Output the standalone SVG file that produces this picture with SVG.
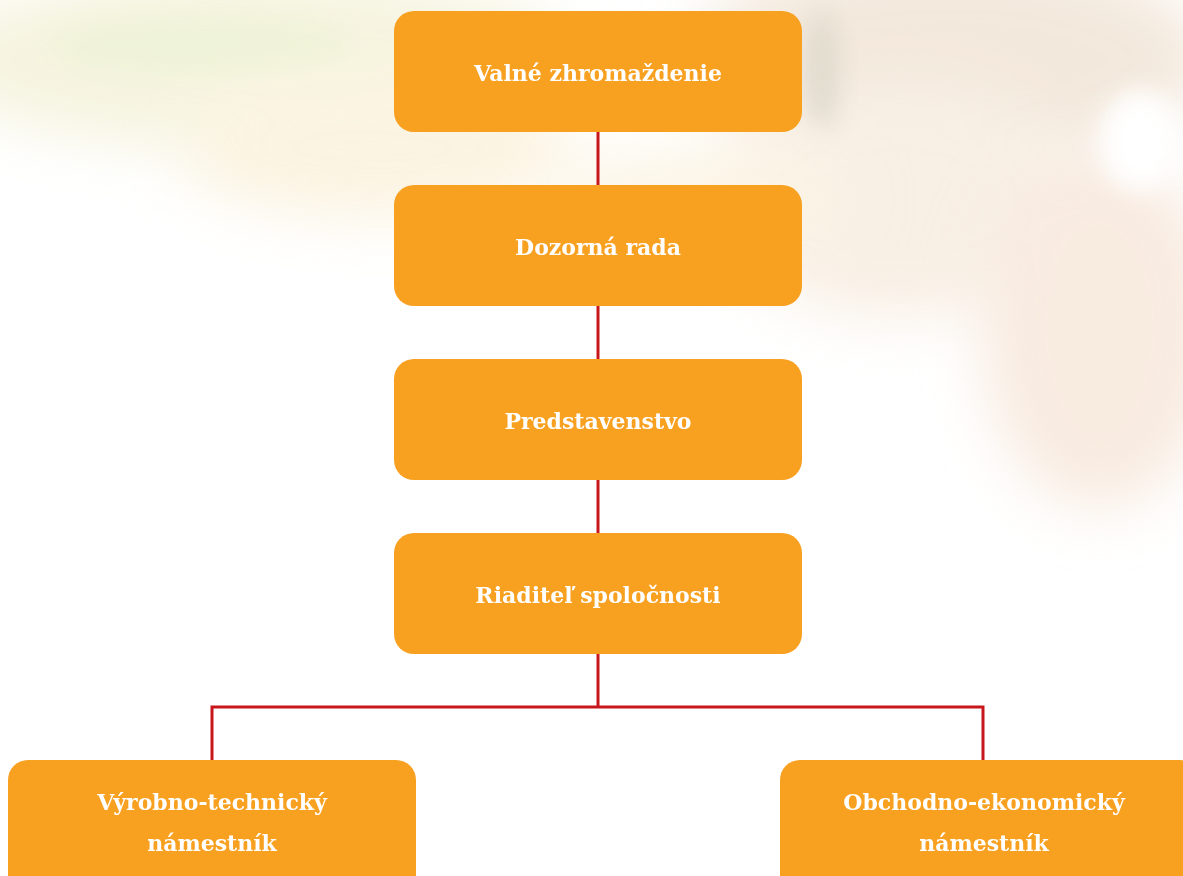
<svg xmlns="http://www.w3.org/2000/svg" width="1183" height="876" viewBox="0 0 1183 876">
<defs>
<style>
.box{fill:#f8a020;}
.lbl{font-family:"DejaVu Serif","Liberation Serif",serif;font-weight:bold;font-size:22px;fill:#ffffff;text-anchor:middle;}
.con{stroke:#c8161d;stroke-width:3;fill:none;}
</style>
<filter id="blur" x="-50%" y="-50%" width="200%" height="200%"><feGaussianBlur stdDeviation="30"/></filter>
<filter id="blur2" x="-50%" y="-50%" width="200%" height="200%"><feGaussianBlur stdDeviation="12"/></filter>
</defs>
<rect width="1183" height="876" fill="#ffffff"/>
<g id="background" opacity="0.75">
<ellipse cx="250" cy="60" rx="320" ry="90" fill="#f3f0d4" filter="url(#blur)"/>
<ellipse cx="200" cy="45" rx="150" ry="30" fill="#eaefcc" filter="url(#blur2)"/>
<ellipse cx="380" cy="150" rx="200" ry="70" fill="#faf0d8" filter="url(#blur)"/>
<ellipse cx="950" cy="60" rx="260" ry="110" fill="#efe1d0" filter="url(#blur)"/>
<ellipse cx="900" cy="200" rx="180" ry="120" fill="#f6eadc" filter="url(#blur)"/>
<ellipse cx="1100" cy="330" rx="120" ry="180" fill="#f6e4d6" filter="url(#blur)"/>
<ellipse cx="822" cy="70" rx="18" ry="60" fill="#d6d0be" filter="url(#blur2)"/>
<ellipse cx="1140" cy="140" rx="40" ry="50" fill="#ffffff" filter="url(#blur2)"/>
<ellipse cx="700" cy="200" rx="150" ry="50" fill="#fbf2dd" filter="url(#blur)"/>
</g>
<g id="connectors">
<line class="con" x1="598" y1="132" x2="598" y2="185"/>
<line class="con" x1="598" y1="306" x2="598" y2="359"/>
<line class="con" x1="598" y1="480" x2="598" y2="533"/>
<path class="con" d="M598 654 V707 M212 760 V707 H983 V760"/>
</g>
<g id="valne">
<rect class="box" x="394" y="11" width="408" height="121" rx="20"/>
<text class="lbl" x="598" y="81">Valné zhromaždenie</text>
</g>
<g id="dozorna">
<rect class="box" x="394" y="185" width="408" height="121" rx="20"/>
<text class="lbl" x="598" y="255">Dozorná rada</text>
</g>
<g id="predstavenstvo">
<rect class="box" x="394" y="359" width="408" height="121" rx="20"/>
<text class="lbl" x="598" y="429">Predstavenstvo</text>
</g>
<g id="riaditel">
<rect class="box" x="394" y="533" width="408" height="121" rx="20"/>
<text class="lbl" x="598" y="603">Riaditeľ spoločnosti</text>
</g>
<g id="vyrobno">
<rect class="box" x="8" y="760" width="408" height="140" rx="20"/>
<text class="lbl" x="212" y="810">Výrobno-technický</text>
<text class="lbl" x="212" y="851">námestník</text>
</g>
<g id="obchodno">
<rect class="box" x="780" y="760" width="420" height="140" rx="20"/>
<text class="lbl" x="984" y="810">Obchodno-ekonomický</text>
<text class="lbl" x="984" y="851">námestník</text>
</g>
</svg>
